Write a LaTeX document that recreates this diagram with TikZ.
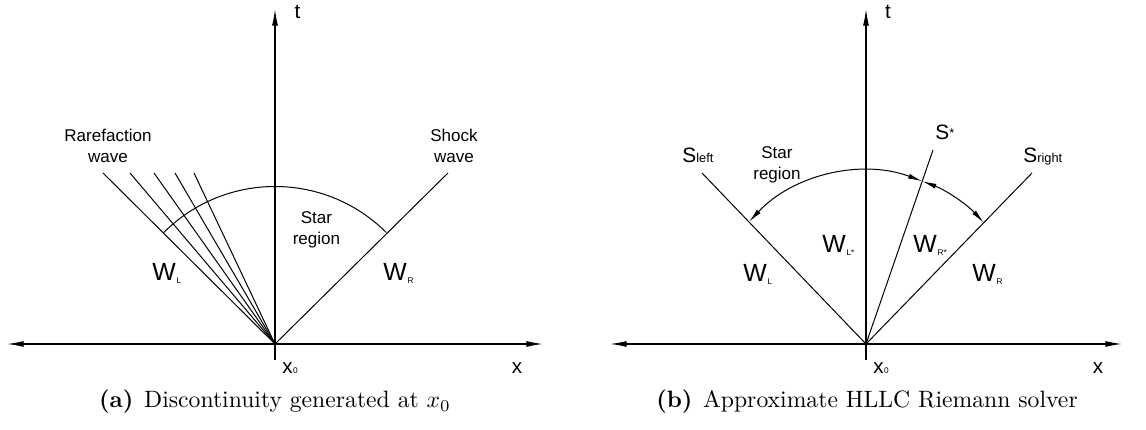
\documentclass[tikz,border=0pt]{standalone}
\usepackage{fontspec}
\newfontfamily\lab{Liberation Sans}
\usetikzlibrary{arrows.meta}
\newcommand\wsub[1]{{\fontsize{3.5}{4}\selectfont #1}}
\newcommand\ssub[1]{{\fontsize{5.4}{6}\selectfont #1}}
\begin{document}
\begin{tikzpicture}[x=0.4226pt,y=0.4226pt,
  ln/.style={line width=0.42pt},
  axis/.style={line width=0.5pt},
  tip/.style={-{Latex[length=7pt,width=2.5pt]}},
  tips/.style={{Latex[length=7pt,width=2.5pt]}-{Latex[length=7pt,width=2.5pt]}},
  arcarrow/.style={line width=0.42pt,{Latex[length=6pt,width=2.1pt]}-{Latex[length=6pt,width=2.1pt]}},
  lbl/.style={font=\lab\fontsize{7.2}{8.9}\selectfont, align=center, inner sep=0pt},
  wl/.style={font=\lab\fontsize{10.5}{12}\selectfont, inner sep=0pt, anchor=base west},
  al/.style={font=\lab\fontsize{8.7}{10}\selectfont, inner sep=0pt, anchor=base},
  xl/.style={font=\lab\fontsize{8.7}{10}\selectfont, inner sep=0pt, anchor=base west},
  sl/.style={font=\lab\fontsize{8.8}{10}\selectfont, inner sep=0pt, anchor=base west},
  captxt/.style={font=\fontsize{10}{12}\selectfont, inner sep=0pt, anchor=base}]
\useasboundingbox (0,0) rectangle (1146,430);

% ---------- left panel ----------
\coordinate (O1) at (275,86);
\coordinate (T1) at (275,421);
\coordinate (B1) at (275,70);
\coordinate (XL1) at (7,86);
\coordinate (XR1) at (543,86);
\draw[axis,tips] (XL1) -- (XR1);
\draw[axis,tip] (B1) -- (T1);
\coordinate (R1) at (103,257);
\coordinate (R2) at (130,257);
\coordinate (R3) at (154,257);
\coordinate (R4) at (175,257);
\coordinate (R5) at (194,257);
\foreach \i in {1,...,5} \draw[ln] (O1) -- (R\i);
\coordinate (SH) at (448,257);
\draw[ln] (O1) -- (SH);
\path (O1) ++(135:157.5) coordinate (A1s);
\draw[ln] (A1s) arc[start angle=135,end angle=45,radius=66.56pt];

\node[al] (t1) at (297.5,411) {t};
\node[al] (x1) at (517,56) {x};
\node[xl] (x01) at (282,56) {x\kern0.2pt\wsub{0}};
\node[lbl] (rare) at (108,284.5) {Rarefaction\\wave};
\node[lbl] (shock) at (454,284) {Shock\\wave};
\node[lbl] (star1) at (316.5,200) {Star\\region};
\node[wl] (wl1) at (152,149) {W\kern0.3pt\raisebox{-1pt}{\wsub{L}}};
\node[wl] (wr1) at (383,149) {W\kern0.3pt\raisebox{-1pt}{\wsub{R}}};

% ---------- right panel ----------
\coordinate (O2) at (866,86);
\coordinate (T2) at (866,421);
\coordinate (B2) at (866,70);
\coordinate (XL2) at (610,86);
\coordinate (XR2) at (1122,86);
\draw[axis,tips] (XL2) -- (XR2);
\draw[axis,tip] (B2) -- (T2);
\coordinate (SLe) at (702,257);
\coordinate (SRe) at (1032,257);
\coordinate (SSe) at (933,280);
\draw[ln] (O2) -- (SLe);
\draw[ln] (O2) -- (SRe);
\draw[ln] (O2) -- (SSe);
\coordinate (C) at (866,99);
\path (C) ++(137:160) coordinate (A2s);
\path (C) ++(69.4:160) coordinate (A2m);
\draw[arcarrow] (A2s) arc[start angle=137,end angle=69.4,radius=67.62pt];
\draw[arcarrow] (A2m) arc[start angle=69.4,end angle=42.6,radius=67.62pt];

\node[al] (t2) at (888,411) {t};
\node[al] (x2) at (1098,56) {x};
\node[xl] (x02) at (873,56) {x\kern0.2pt\wsub{0}};
\node[sl] (sleft) at (682,267) {S\ssub{left}};
\node[sl] (sright) at (1023,267) {S\ssub{right}};
\node[sl] (sstar) at (935,290) {S\raisebox{1.2pt}{\ssub{*}}};
\node[lbl] (star2) at (777,265.5) {Star\\region};
\node[wl] (wl2) at (743,148) {W\kern0.3pt\raisebox{-1pt}{\wsub{L}}};
\node[wl] (wr2) at (972,148) {W\kern0.3pt\raisebox{-1pt}{\wsub{R}}};
\node[wl] (wls) at (822,177) {W\kern0.3pt\raisebox{-1pt}{\wsub{L*}}};
\node[wl] (wrs) at (913,177) {W\kern0.3pt\raisebox{-1pt}{\wsub{R*}}};

% ---------- captions ----------
\node[captxt] (capa) at (275,22.5) {\textbf{(a)}\hspace{4.5pt}Discontinuity generated at $x_0$};
\node[captxt] (capb) at (867,22.5) {\textbf{(b)}\hspace{4.5pt}Approximate HLLC Riemann solver};
\end{tikzpicture}
\end{document}
